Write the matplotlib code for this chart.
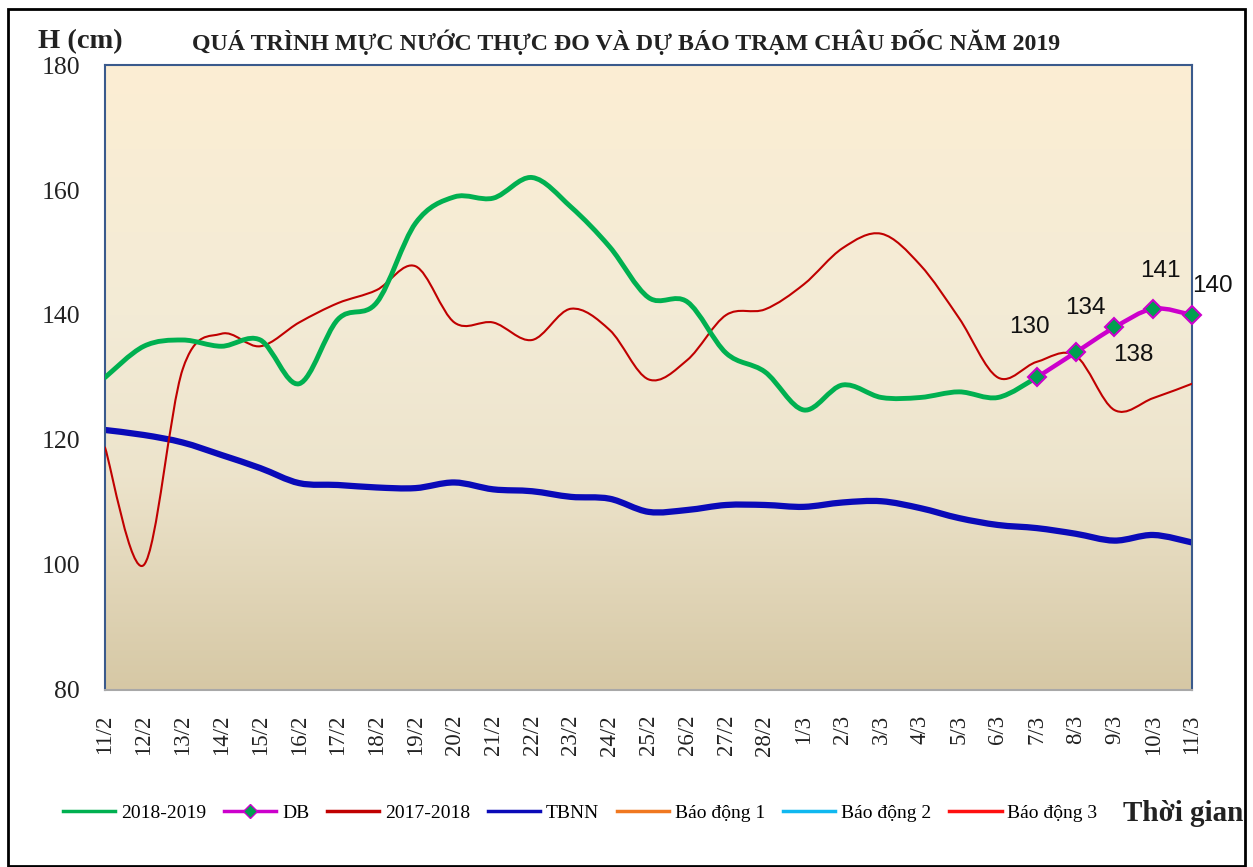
import matplotlib.pyplot as plt
import numpy as np
from matplotlib.path import Path
from matplotlib.patches import PathPatch, Rectangle
from matplotlib.lines import Line2D
from matplotlib.colors import LinearSegmentedColormap

dates = ['11/2', '12/2', '13/2', '14/2', '15/2', '16/2', '17/2', '18/2', '19/2', '20/2',
         '21/2', '22/2', '23/2', '24/2', '25/2', '26/2', '27/2', '28/2', '1/3', '2/3',
         '3/3', '4/3', '5/3', '6/3', '7/3', '8/3', '9/3', '10/3', '11/3']

# measured 2018-2019 (11/2 -> 7/3)
h_2019 = [130, 135, 136, 135, 136, 129, 139.3, 142, 154.7, 158.9,
          158.7, 162, 157.3, 150.9, 142.8, 142.1, 133.9, 130.9, 124.8, 128.8,
          126.8, 126.8, 127.7, 126.8, 130]
# forecast (7/3 -> 11/3)
db_dates = ['7/3', '8/3', '9/3', '10/3', '11/3']
h_db = [130, 134, 138, 141, 140]
h_2018 = [118.8, 100, 131.3, 137, 135, 138.8, 141.9, 144, 147.8, 138.8,
          138.8, 136, 141, 137.6, 129.7, 132.8, 140, 140.9, 144.9, 150.7,
          153, 148, 139.5, 130, 132.5, 133.5, 124.8, 126.7, 129]
h_tbnn = [121.6, 120.8, 119.6, 117.6, 115.5, 113.1, 112.8, 112.4, 112.3, 113.2,
          112.1, 111.8, 110.9, 110.6, 108.5, 108.8, 109.6, 109.6, 109.3, 110,
          110.2, 109.1, 107.5, 106.4, 105.9, 105, 103.9, 104.8, 103.6]
# alarm levels, Chau Doc station (above the visible range)
bd_levels = [350, 400, 450]
bd_names = ['Báo động 1', 'Báo động 2', 'Báo động 3']
bd_colors = ['#F07820', '#10B8F0', '#FF1010']

serif = 'Liberation Serif'


def smooth_path(x, y):
    # Excel-like smoothed line through the points (cubic bezier segments)
    x = np.asarray(x, float)
    y = np.asarray(y, float)
    n = len(x)
    verts = [(x[0], y[0])]
    codes = [Path.MOVETO]
    for i in range(n - 1):
        x0, y0 = (x[i - 1], y[i - 1]) if i > 0 else (x[i], y[i])
        x3, y3 = (x[i + 2], y[i + 2]) if i + 2 < n else (x[i + 1], y[i + 1])
        c1 = (x[i] + (x[i + 1] - x0) / 6, y[i] + (y[i + 1] - y0) / 6)
        c2 = (x[i + 1] - (x3 - x[i]) / 6, y[i + 1] - (y3 - y[i]) / 6)
        verts += [c1, c2, (x[i + 1], y[i + 1])]
        codes += [Path.CURVE4] * 3
    return Path(verts, codes)


def draw_smooth(ax, x, y, color, lw, z):
    p = PathPatch(smooth_path(x, y), facecolor='none', edgecolor=color, lw=lw,
                  zorder=z, capstyle='round', joinstyle='round')
    ax.add_patch(p)


fig = plt.figure(figsize=(12.53, 8.67), dpi=100)
ax = fig.add_axes([0.0838, 0.2042, 0.8675, 0.7208])

ax.set_xlim(0, len(dates) - 1)
ax.set_ylim(80, 180)

# gradient background
cmap = LinearSegmentedColormap.from_list('bg', [(0, '#D6C8A5'), (0.35, '#EDE4CC'),
                                                (0.6, '#F3EBD6'), (1, '#FCEED3')])
ax.imshow(np.linspace(0, 1, 256).reshape(-1, 1), cmap=cmap, aspect='auto',
          extent=[0, len(dates) - 1, 80, 180], origin='lower', zorder=0)

xi = np.arange(len(dates))
draw_smooth(ax, xi, h_2018, '#C00000', 1.5, 3)
draw_smooth(ax, xi, h_tbnn, '#0A0AB8', 4.5, 2)
draw_smooth(ax, xi[:len(h_2019)], h_2019, '#00B050', 3.5, 4)
x_db = [dates.index(d) for d in db_dates]
draw_smooth(ax, x_db, h_db, '#CC00CC', 3.2, 5)
ax.plot(x_db, h_db, ls='none', marker='D', ms=9, mfc='#00A050', mec='#CC00CC',
        mew=1.5, zorder=6, clip_on=False)
for lvl, c in zip(bd_levels, bd_colors):
    ax.axhline(lvl, color=c, lw=2)

# data labels
offsets = [(-5, 36), (7, 32), (14, -20), (5, 27), (15, 21)]
for xv, yv, off in zip(x_db, h_db, offsets):
    ax.annotate(f'{yv:.0f}', (xv, yv), xytext=off, textcoords='offset points',
                ha='center', va='center', fontsize=17.5, family='Liberation Sans',
                color='#111111', annotation_clip=False)

ax.set_xticks(xi)
ax.set_xticklabels(dates, rotation=90, fontsize=16.5, family=serif, color='#222222')
ax.set_yticks(np.arange(80, 181, 20))
ax.set_yticklabels([str(v) for v in range(80, 181, 20)], fontsize=18.5, family=serif,
                   color='#222222')
ax.tick_params(axis='x', length=0, pad=18)
ax.tick_params(axis='y', length=0, pad=18)
for s in ax.spines.values():
    s.set_color('#3A5A8C')
    s.set_linewidth(1.5)
ax.spines['bottom'].set_color('#A8A8A8')

fig.text(0.030, 0.952, 'H (cm)', fontsize=20.5, family=serif, weight='bold',
         va='center', color='#222222')
fig.text(0.50, 0.951, 'QUÁ TRÌNH MỰC NƯỚC THỰC ĐO VÀ DỰ BÁO TRẠM CHÂU ĐỐC NĂM 2019',
         fontsize=17.2, family=serif, weight='bold', ha='center', va='center',
         color='#222222')

handles = [Line2D([], [], color='#00B050', lw=2.5),
           Line2D([], [], color='#CC00CC', lw=2.5, marker='D', ms=7, mfc='#00A050',
                  mec='#CC00CC'),
           Line2D([], [], color='#C00000', lw=2.5),
           Line2D([], [], color='#0A0AB8', lw=2.5)]
handles += [Line2D([], [], color=c, lw=2.5) for c in bd_colors]
labels = ['2018-2019', 'DB', '2017-2018', 'TBNN'] + bd_names
fig.legend(handles, labels, loc='center', bbox_to_anchor=(0.463, 0.062), ncol=7,
           frameon=False, handlelength=2.7, handletextpad=0.3, columnspacing=0.9,
           prop={'family': serif, 'size': 14})
fig.text(0.992, 0.062, 'Thời gian', fontsize=21, family=serif, weight='bold',
         ha='right', va='center', color='#222222')

fig.add_artist(Rectangle((0.006, 0.001), 0.988, 0.989, transform=fig.transFigure,
                         fill=False, ec='black', lw=2))

fig.savefig('out.png', dpi=100)
